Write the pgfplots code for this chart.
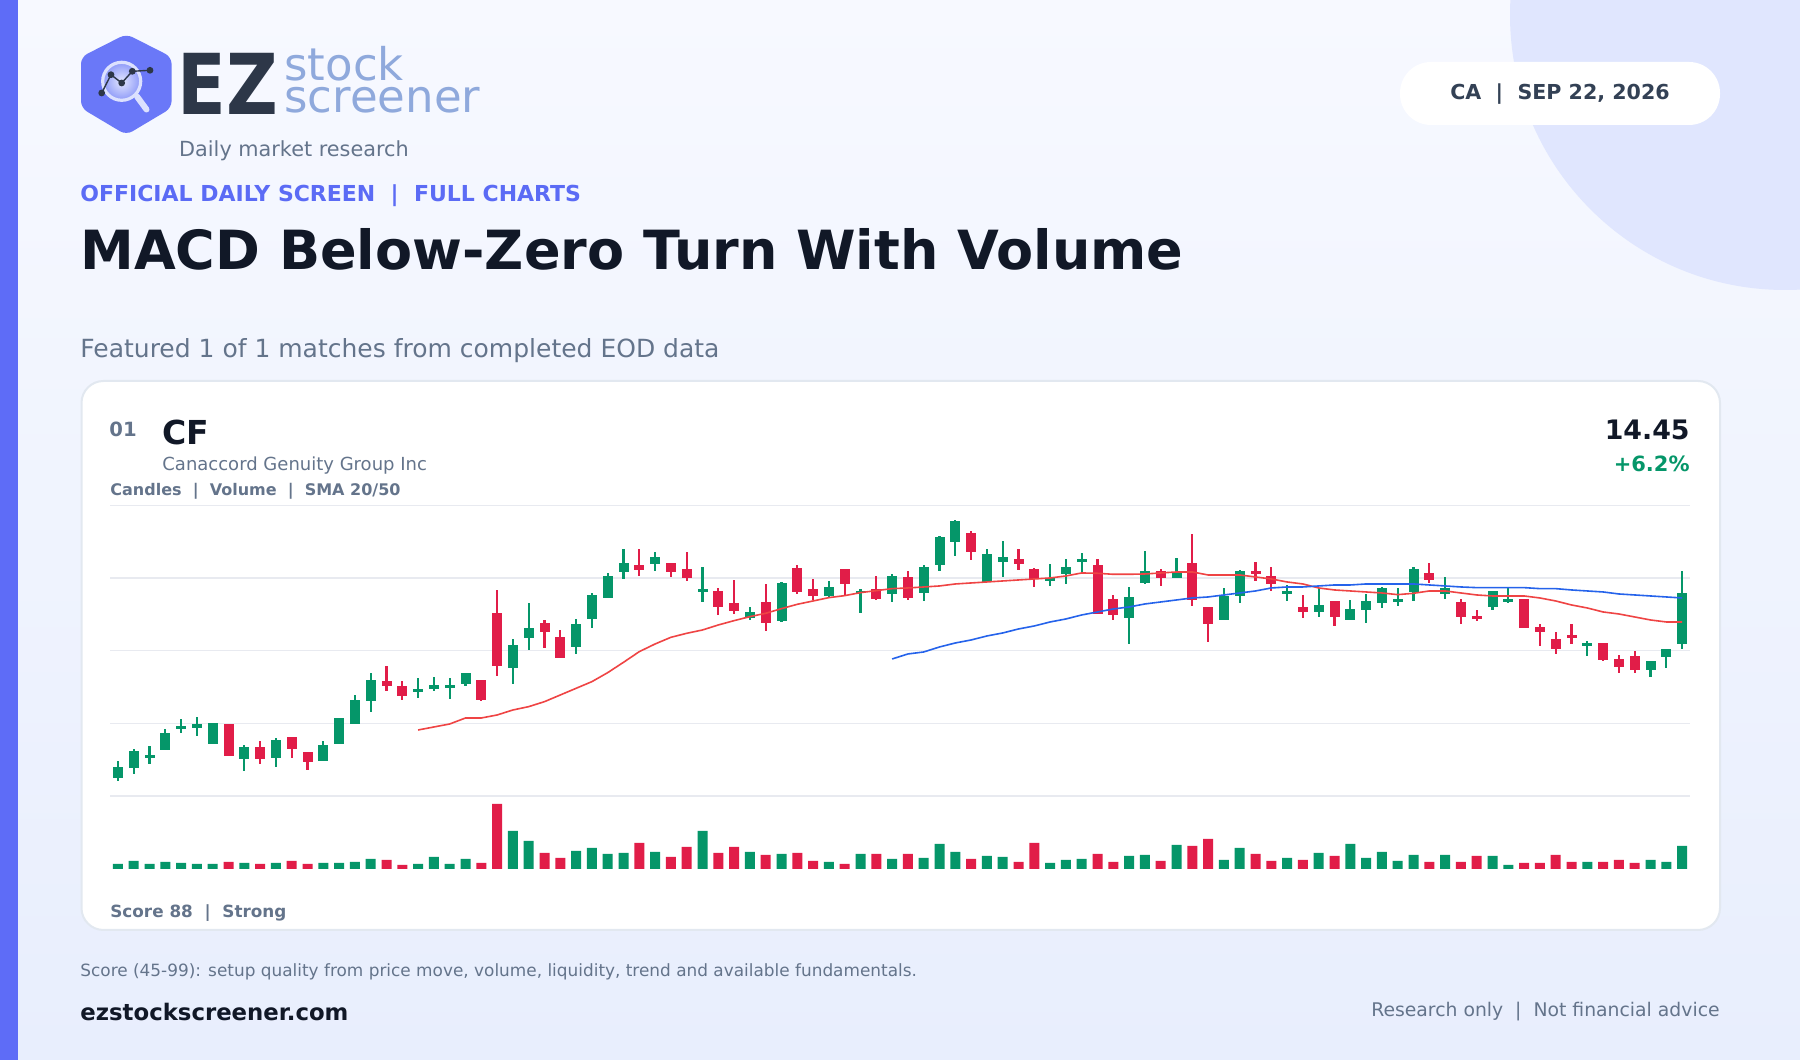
\documentclass[border=0pt]{standalone}
\usepackage{pgfplots}
\pgfplotsset{compat=1.18}
\usepackage{pgfplotstable}
\usepackage{fontspec}
\setmainfont{DejaVu Sans}
\definecolor{bgtop}{HTML}{F7F9FF}
\definecolor{bgbot}{HTML}{E8EEFD}
\definecolor{circc}{HTML}{E0E6FE}
\definecolor{stripe}{HTML}{5E6CF7}
\definecolor{ink}{HTML}{111827}
\definecolor{slate}{HTML}{64748B}
\definecolor{slatedk}{HTML}{334155}
\definecolor{indigo}{HTML}{5B6BF5}
\definecolor{upc}{HTML}{059669}
\definecolor{dnc}{HTML}{E11D48}
\definecolor{smaA}{HTML}{EF4444}
\definecolor{smaB}{HTML}{2563EB}
\definecolor{gridc}{HTML}{E8EAF0}
\definecolor{cardb}{HTML}{E2E8F0}
\definecolor{hexc}{HTML}{6A78F8}
\definecolor{ezc}{HTML}{2D3748}
\definecolor{logoblue}{HTML}{8FA9DC}
\definecolor{lensin}{HTML}{E2E6FF}
\definecolor{lensout}{HTML}{8E9AF8}
\definecolor{ringc}{HTML}{DCE1FE}

% candles: index, open, high, low, close, volume (thousands)
\pgfplotstableread{
i o h l c v
0 11.685 11.935 11.635 11.845 150
1 11.835 12.115 11.740 12.085 240
2 11.985 12.160 11.890 12.025 150
3 12.105 12.415 12.105 12.355 210
4 12.420 12.565 12.355 12.460 180
5 12.430 12.595 12.310 12.490 150
6 12.190 12.505 12.190 12.505 150
8 11.965 12.175 11.785 12.145 180
10 11.980 12.280 11.845 12.250 180
13 11.935 12.235 11.935 12.175 180
14 12.190 12.580 12.190 12.580 180
15 12.490 12.925 12.490 12.850 210
16 12.835 13.255 12.670 13.150 300
19 12.970 13.180 12.880 13.015 150
20 13.015 13.195 12.985 13.075 360
21 13.030 13.180 12.865 13.075 150
22 13.090 13.255 13.060 13.255 300
25 13.335 13.765 13.090 13.675 1140
26 13.785 14.305 13.600 13.930 840
29 13.650 14.065 13.540 13.990 540
30 14.070 14.455 13.930 14.425 630
31 14.380 14.755 14.380 14.710 450
32 14.770 15.115 14.665 14.905 480
34 14.895 15.070 14.785 14.995 510
37 14.475 14.845 14.320 14.515 1140
40 14.080 14.245 14.050 14.170 510
42 14.035 14.620 14.020 14.605 450
45 14.410 14.635 14.395 14.545 210
47 14.460 14.515 14.155 14.490 450
49 14.440 14.740 14.320 14.710 300
51 14.455 14.875 14.335 14.845 330
52 14.875 15.310 14.785 15.295 750
53 15.220 15.550 15.010 15.535 510
55 14.620 15.115 14.620 15.040 390
56 14.920 15.235 14.695 14.995 360
59 14.635 14.890 14.560 14.680 180
60 14.740 14.965 14.590 14.845 270
61 14.920 15.055 14.770 14.965 300
64 14.080 14.545 13.690 14.395 390
65 14.605 15.085 14.590 14.785 420
67 14.680 14.980 14.680 14.770 720
70 14.050 14.530 14.050 14.410 270
71 14.410 14.800 14.305 14.785 630
74 14.440 14.575 14.335 14.485 330
76 14.170 14.530 14.095 14.275 480
78 14.050 14.350 14.050 14.215 750
79 14.200 14.440 14.005 14.335 330
80 14.305 14.545 14.230 14.530 510
81 14.320 14.530 14.260 14.365 240
82 14.470 14.845 14.335 14.815 420
84 14.440 14.695 14.365 14.530 420
87 14.245 14.485 14.200 14.485 390
88 14.320 14.530 14.305 14.365 120
93 13.660 13.735 13.510 13.705 210
97 13.300 13.435 13.195 13.435 270
98 13.495 13.615 13.330 13.615 210
99 13.695 14.785 13.615 14.455 690
}\up

\pgfplotstableread{
i o h l c v
7 12.490 12.490 12.010 12.010 210
9 12.145 12.235 11.890 11.965 150
11 12.295 12.295 11.980 12.115 240
12 12.070 12.070 11.800 11.920 150
17 13.135 13.360 12.985 13.060 270
18 13.060 13.135 12.850 12.910 120
23 13.150 13.150 12.835 12.850 180
24 14.155 14.500 13.210 13.365 1950
27 14.005 14.050 13.630 13.870 480
28 13.795 13.900 13.480 13.480 330
33 14.875 15.115 14.710 14.800 780
35 14.905 14.905 14.695 14.770 360
36 14.815 15.070 14.635 14.680 660
38 14.485 14.530 14.125 14.245 480
39 14.305 14.650 14.140 14.185 660
41 14.320 14.590 13.885 14.005 420
43 14.830 14.875 14.440 14.470 480
44 14.515 14.665 14.350 14.410 240
46 14.815 14.815 14.410 14.590 150
48 14.515 14.710 14.350 14.365 450
50 14.695 14.785 14.350 14.380 450
54 15.355 15.385 14.950 15.070 300
57 14.965 15.115 14.800 14.890 210
58 14.815 14.830 14.545 14.665 780
62 14.875 14.965 14.140 14.140 450
63 14.365 14.425 14.050 14.125 210
66 14.785 14.815 14.560 14.680 240
68 14.905 15.340 14.260 14.350 690
69 14.245 14.245 13.720 13.990 900
72 14.785 14.920 14.635 14.740 450
73 14.710 14.845 14.485 14.590 240
75 14.245 14.425 14.080 14.170 270
77 14.335 14.335 13.960 14.095 390
83 14.755 14.905 14.605 14.650 210
85 14.320 14.365 13.990 14.095 210
86 14.110 14.200 14.035 14.065 390
89 14.365 14.365 13.930 13.930 180
90 13.945 13.990 13.660 13.870 180
91 13.765 13.870 13.540 13.615 420
92 13.825 13.990 13.690 13.780 210
94 13.705 13.705 13.435 13.450 210
95 13.465 13.525 13.255 13.345 270
96 13.510 13.585 13.255 13.300 180
}\down

\pgfplotstableread{
i v
19 12.400
20 12.445
21 12.490
22 12.580
23 12.580
24 12.625
25 12.700
26 12.750
27 12.825
28 12.925
29 13.025
30 13.125
31 13.260
32 13.415
33 13.575
34 13.690
35 13.790
36 13.850
37 13.900
38 13.975
39 14.040
40 14.100
41 14.150
42 14.220
43 14.285
44 14.335
45 14.385
46 14.415
47 14.460
48 14.490
49 14.520
50 14.530
51 14.545
52 14.560
53 14.590
54 14.605
55 14.620
56 14.635
57 14.650
58 14.665
59 14.680
60 14.710
61 14.755
62 14.750
63 14.735
64 14.735
65 14.740
66 14.755
67 14.770
68 14.770
69 14.725
70 14.725
71 14.725
72 14.695
73 14.665
74 14.620
75 14.590
76 14.530
77 14.500
78 14.485
79 14.470
80 14.455
81 14.430
82 14.450
83 14.485
84 14.485
85 14.455
86 14.425
87 14.410
88 14.410
89 14.410
90 14.380
91 14.335
92 14.275
93 14.230
94 14.170
95 14.140
96 14.095
97 14.050
98 14.020
99 14.020
}\smaTwenty

\pgfplotstableread{
i v
49 13.465
50 13.540
51 13.570
52 13.645
53 13.705
54 13.750
55 13.810
56 13.855
57 13.915
58 13.960
59 14.020
60 14.065
61 14.125
62 14.170
63 14.215
64 14.245
65 14.290
66 14.320
67 14.350
68 14.380
69 14.395
70 14.425
71 14.455
72 14.485
73 14.530
74 14.545
75 14.545
76 14.560
77 14.575
78 14.575
79 14.590
80 14.590
81 14.590
82 14.590
83 14.575
84 14.560
85 14.545
86 14.535
87 14.535
88 14.535
89 14.535
90 14.520
91 14.520
92 14.500
93 14.485
94 14.470
95 14.440
96 14.425
97 14.410
98 14.395
99 14.380
}\smaFifty

\newcommand{\fs}[1]{\fontsize{#1}{#1}\selectfont}
\pgfplotsset{
  candle/.style n args={2}{draw=none, mark=none, forget plot,
    error bars/.cd, y dir=plus, y explicit, error mark=none,
    error bar style={draw=#1, draw opacity=1, line width=#2, solid}},
}

\begin{document}
\begin{tikzpicture}[x=0.5pt,y=0.5pt]
\useasboundingbox (0,0) rectangle (1800,1060);
\shade[top color=bgtop, bottom color=bgbot] (0,0) rectangle (1800,1060);
\begin{scope}
\clip (0,0) rectangle (1800,1060);
\fill[circc] (1785,1045) circle (275);
\end{scope}
\fill[stripe] (0,0) rectangle (18,1060);

% logo
\fill[hexc, rounded corners=3.5pt] (126.3,1026) -- (81,1003) -- (81,952) -- (126.3,925) -- (171.6,952) -- (171.6,1003) -- cycle;
\draw[line cap=round, line width=3pt, color=ringc] (137,963.5) -- (146.5,950.5);
\shade[inner color=lensin, outer color=lensout] (121.7,978.7) circle (19);
\draw[line width=1.6pt, color=ringc] (121.7,978.7) circle (19);
\draw[line width=0.7pt, color=ezc] (101.7,967) -- (111,985.3) -- (121.7,977) -- (132.3,988.7) -- (150,989.7);
\foreach \p in {(101.7,967),(111,985.3),(121.7,977),(132.3,988.7),(150,989.7)} \fill[ezc] \p circle (3.4);
\node[anchor=base west, inner sep=0, text=ezc, font=\fs{42}\bfseries, xscale=0.85] at (177,945) {EZ};
\node[anchor=base west, inner sep=0, text=logoblue, font=\fs{22.5}] at (284,979) {stock};
\node[anchor=base west, inner sep=0, text=logoblue, font=\fs{22.5}] at (284,947) {screener};
\node[anchor=base, inner sep=0, text=slate, font=\fs{10.4}] at (294,903) {Daily market research};

% date pill
\fill[white, rounded corners=15.5pt] (1400,935) rectangle (1720,998);
\node[anchor=base, inner sep=0, text=slatedk, font=\fs{10.3}\bfseries] at (1560,960) {CA\ \ |\ \ SEP 22, 2026};

% headings
\node[anchor=base west, inner sep=0, text=indigo, font=\fs{11}\bfseries] at (80,858) {OFFICIAL DAILY SCREEN\ \ |\ \ FULL CHARTS};
\node[anchor=base west, inner sep=0, text=ink, font=\fs{27}\bfseries] at (80,790) {MACD Below-Zero Turn With Volume};
\node[anchor=base west, inner sep=0, text=slate, font=\fs{12.5}] at (80,702) {Featured 1 of 1 matches from completed EOD data};

% card
\draw[fill=white, draw=cardb, line width=1pt, rounded corners=11pt] (81.5,130) rectangle (1720,679);
\node[anchor=base west, inner sep=0, text=slate, font=\fs{9.8}\bfseries] at (109,623) {01};
\node[anchor=base west, inner sep=0, text=ink, font=\fs{16.5}\bfseries] at (162,615) {CF};
\node[anchor=base west, inner sep=0, text=slate, font=\fs{9}] at (162,589) {Canaccord Genuity Group Inc};
\node[anchor=base west, inner sep=0, text=slate, font=\fs{8}\bfseries] at (110,564) {Candles\ \ |\ \ Volume\ \ |\ \ SMA 20/50};
\node[anchor=base east, inner sep=0, text=ink, font=\fs{13.4}\bfseries] at (1690,620) {14.45};
\node[anchor=base east, inner sep=0, text=upc, font=\fs{10.5}\bfseries] at (1690,588) {+6.2\%};
\node[anchor=base west, inner sep=0, text=slate, font=\fs{8.4}\bfseries] at (110,142) {Score 88\ \ |\ \ Strong};

% footer
\node[anchor=base west, inner sep=0, text=slate, font=\fs{8.45}] at (80,83) {Score (45-99): setup quality from price move, volume, liquidity, trend and available fundamentals.};
\node[anchor=base west, inner sep=0, text=ink, font=\fs{11.4}\bfseries] at (80,39) {ezstockscreener.com};
\node[anchor=base east, inner sep=0, text=slate, font=\fs{9.4}] at (1720,43) {Research only\ \ |\ \ Not financial advice};

% price panel
\begin{axis}[at={(55pt,132pt)}, anchor=south west, scale only axis,
  width=790pt, height=145.35pt,
  xmin=-0.5, xmax=99.5, ymin=11.41, ymax=15.77,
  axis line style={draw=none}, xtick=\empty,
  ytick={11.41,12.50,13.59,14.68,15.77}, yticklabels={},
  major tick length=0pt, ymajorgrids,
  grid style={draw=gridc, line width=0.6pt},
  clip=false]
\addplot[candle={upc}{1.15pt}]
  table[x=i, y=l, y error expr=\thisrow{h}-\thisrow{l}] \up;
\addplot[candle={dnc}{1.15pt}]
  table[x=i, y=l, y error expr=\thisrow{h}-\thisrow{l}] \down;
\addplot[candle={upc}{5pt}]
  table[x=i, y=o, y error expr=\thisrow{c}-\thisrow{o}] \up;
\addplot[candle={dnc}{5pt}]
  table[x=i, y=c, y error expr=\thisrow{o}-\thisrow{c}] \down;
\addplot[smaA, line width=0.8pt, mark=none] table[x=i, y=v] \smaTwenty;
\addplot[smaB, line width=0.8pt, mark=none] table[x=i, y=v] \smaFifty;
\end{axis}

% volume panel
\begin{axis}[at={(55pt,95.5pt)}, anchor=south west, scale only axis,
  width=790pt, height=36.5pt,
  xmin=-0.5, xmax=99.5, ymin=0, ymax=2190,
  hide axis, ybar, bar width=5pt]
\addplot[fill=upc, draw=none, bar shift=0pt] table[x=i, y=v] \up;
\addplot[fill=dnc, draw=none, bar shift=0pt] table[x=i, y=v] \down;
\end{axis}
\end{tikzpicture}
\end{document}
